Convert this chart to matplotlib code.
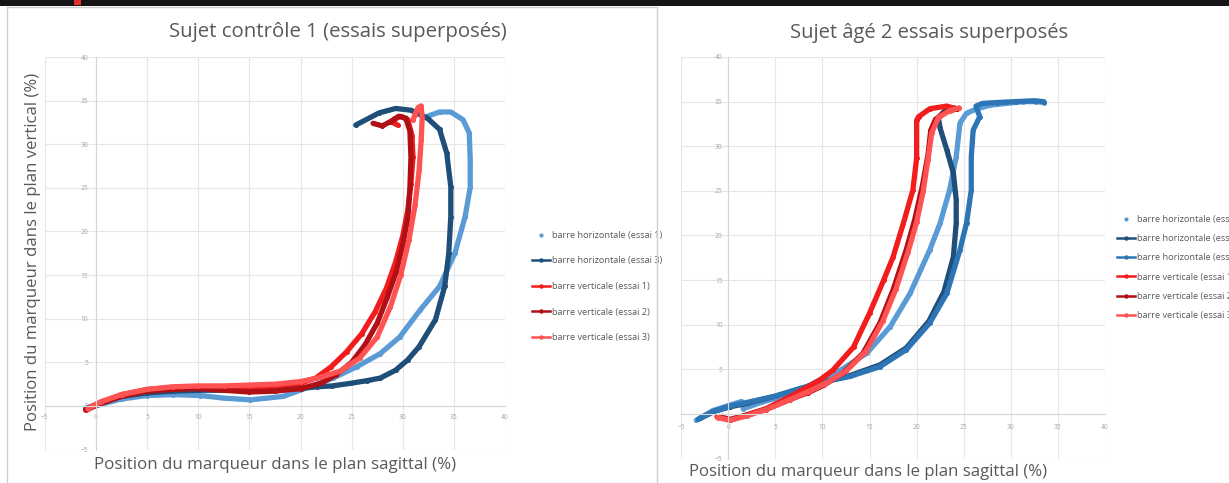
import matplotlib
matplotlib.use('Agg')
import matplotlib.pyplot as plt
from matplotlib.lines import Line2D
from matplotlib.patches import Rectangle

W, H = 1229, 483
plt.rcParams['font.family'] = ['Open Sans', 'DejaVu Sans']

# ---------------- data : left chart (Sujet contrôle 1) ----------------
title_left = "Sujet contrôle 1 (essais superposés)"
title_right = "Sujet âgé 2 essais superposés"
xlabel = "Position du marqueur dans le plan sagittal (%)"
ylabel = "Position du marqueur dans le plan vertical (%)"
ticks = [-5, 0, 5, 10, 15, 20, 25, 30, 35, 40]

left_labels = ["barre horizontale (essai 1)", "barre horizontale (essai 3)",
               "barre verticale (essai 1)", "barre verticale (essai 2)",
               "barre verticale (essai 3)"]
right_labels = ["barre horizontale (essai 1)", "barre horizontale (essai 2)",
                "barre horizontale (essai 3)", "barre verticale (essai 1)",
                "barre verticale (essai 2)", "barre verticale (essai 3)"]

L_h1_x = [-0.8, 0.5, 2.5, 5, 7.5, 10.2, 12.5, 15.1, 18.3, 20.9, 23.2, 25.5, 27.8, 29.7, 31.7,
          33.6, 35.1, 36.1, 36.6, 36.6, 36.5, 35.9, 34.7, 33.6, 32.4]
L_h1_y = [-0.3, 0.2, 0.8, 1.2, 1.3, 1.2, 0.9, 0.7, 1.1, 2.2, 3.2, 4.5, 6.0, 7.9, 11.0,
          13.7, 17.5, 21.7, 25.1, 28.2, 31.3, 32.8, 33.7, 33.7, 33.2]
L_h3_x = [-1.0, 0.5, 2.5, 5, 7.5, 10, 12.5, 15, 17.5, 20, 21.6, 23.1, 24.9, 26.5, 27.8,
          29.3, 30.5, 31.6, 33.2, 34.1, 34.5, 34.7, 34.7, 34.3, 33.6, 32.4, 30.8, 29.3, 27.7, 25.4]
L_h3_y = [-0.3, 0.4, 1.1, 1.5, 1.7, 1.8, 1.8, 1.8, 1.9, 2.0, 2.2, 2.3, 2.6, 2.9, 3.2,
          4.1, 5.3, 6.8, 9.9, 13.7, 17.5, 21.7, 25.1, 29.0, 31.7, 33.0, 33.9, 34.1, 33.6, 32.2]
L_v1_x = [-1.0, 0.5, 2.5, 5, 7.5, 10, 12.5, 15, 17.5, 20, 21.5, 23.0, 24.5, 26.0, 27.3,
          28.4, 29.3, 30.0, 30.5, 30.8, 31.0, 30.9, 30.5, 29.8, 29.2, 29.0, 29.5]
L_v1_y = [-0.5, 0.4, 1.3, 1.9, 2.1, 2.2, 2.2, 2.2, 2.3, 2.6, 3.2, 4.5, 6.2, 8.3, 10.8,
          13.5, 16.5, 19.5, 22.5, 25.5, 28.5, 31.0, 32.8, 33.2, 32.9, 32.5, 32.2]
L_v2_x = [-1.0, 0.5, 2.5, 5, 7.5, 10, 12.5, 15, 17.5, 20, 22.0, 23.5, 25.0, 26.3, 27.5,
          28.5, 29.4, 30.0, 30.5, 30.7, 30.8, 30.7, 30.3, 29.6, 28.8, 28.0, 27.1]
L_v2_y = [-0.4, 0.3, 1.1, 1.7, 1.9, 2.0, 1.8, 1.6, 1.7, 2.0, 2.6, 3.6, 5.0, 7.0, 9.5,
          12.5, 15.5, 18.5, 21.5, 25.0, 28.5, 31.5, 33.0, 33.2, 32.6, 32.1, 32.4]
L_v3_x = [-0.8, 0.5, 2.5, 5, 7.5, 10, 12.5, 15, 17.5, 20, 22.0, 23.9, 25.8, 27.5, 28.8,
          29.8, 30.6, 31.2, 31.6, 31.8, 31.9, 31.8, 31.5, 31.2, 31.0]
L_v3_y = [-0.3, 0.5, 1.3, 1.9, 2.2, 2.3, 2.3, 2.4, 2.5, 2.8, 3.3, 4.0, 5.5, 7.9, 11.4,
          15.0, 19.0, 23.0, 27.0, 30.5, 33.0, 34.4, 34.2, 33.4, 32.8]

# ---------------- data : right chart (Sujet âgé 2) ----------------
R_h1_x = [-3.4, -1.6, 0.2, 1.4, 1.6, 3.5, 5.5, 7.5, 9.7, 11.9, 14.7, 17.2, 19.3, 21.4, 22.5,
          23.5, 24.2, 24.6, 25.3, 26.4, 27.8, 29.5, 31.3, 32.7, 33.5]
R_h1_y = [-0.7, 0.4, 1.0, 1.4, 0.6, 1.3, 1.9, 2.6, 3.8, 4.9, 6.8, 9.8, 13.5, 18.4, 21.4,
          25.1, 28.8, 32.6, 33.7, 34.2, 34.6, 34.8, 35.0, 35.0, 34.9]
R_h2_x = [-3.0, -1.5, 0.2, 2.0, 5.0, 7.5, 10.1, 12.9, 16.1, 18.9, 21.3, 22.9, 23.9, 24.2, 24.2,
          23.9, 23.2, 22.5, 22.3, 23.0, 24.0]
R_h2_y = [-0.5, 0.3, 0.8, 1.2, 2.0, 2.8, 3.6, 4.3, 5.5, 7.4, 10.4, 13.7, 17.6, 21.4, 24.0,
          27.0, 29.6, 32.0, 33.2, 34.0, 34.3]
R_h3_x = [-3.2, -1.5, 0.2, 2.0, 5.0, 7.5, 10.1, 12.9, 16.1, 18.9, 21.4, 23.2, 24.6, 25.3, 25.8,
          25.8, 26.0, 26.7, 26.3, 27.0, 28.5, 30.5, 32.5, 33.5]
R_h3_y = [-0.6, 0.3, 0.9, 1.3, 2.0, 2.8, 3.6, 4.2, 5.3, 7.2, 10.2, 13.5, 18.4, 21.4, 25.1,
          28.8, 31.8, 33.3, 34.5, 34.8, 34.9, 35.0, 35.1, 35.0]
R_v1_x = [-1.2, 0.2, 2.0, 4.0, 6.5, 8.2, 9.7, 11.1, 13.3, 15.0, 16.5, 17.5, 18.6, 19.6, 20.0,
          20.0, 20.2, 21.4, 23.2, 24.2]
R_v1_y = [-0.3, -0.7, -0.1, 0.6, 1.9, 2.9, 3.8, 4.9, 7.5, 11.3, 15.0, 17.6, 21.4, 25.1, 28.7,
          32.9, 33.3, 34.2, 34.5, 34.2]
R_v2_x = [-1.0, 0.2, 2.0, 4.0, 6.5, 8.5, 10.1, 12.2, 14.3, 16.1, 17.5, 18.9, 19.8, 20.6, 21.2,
          21.5, 22.0, 23.0, 24.3]
R_v2_y = [-0.3, -0.6, -0.1, 0.5, 1.6, 2.4, 3.2, 4.6, 6.8, 10.2, 13.9, 18.4, 21.8, 25.5, 29.0,
          31.8, 33.0, 33.8, 34.2]
R_v3_x = [-1.1, 0.2, 2.0, 4.0, 6.5, 8.5, 10.3, 12.5, 14.6, 16.4, 17.8, 19.1, 20.0, 20.7, 21.2,
          21.6, 22.3, 23.5, 24.5]
R_v3_y = [-0.4, -0.7, -0.2, 0.5, 1.6, 2.5, 3.4, 4.8, 7.0, 10.4, 14.0, 18.2, 21.5, 25.0, 28.5,
          31.5, 33.2, 34.0, 34.3]

C_LBLUE = '#5B9BD5'
C_DBLUE = '#1F4E79'
C_MBLUE = '#2E75B6'
C_RED = '#F21C1C'
C_DRED = '#B00F14'
C_LRED = '#FF5252'
TXT = '#595959'

fig = plt.figure(figsize=(W / 100, H / 100), dpi=100)
fig.patch.set_facecolor('white')


def rect(x0, x1, ytop, ybot):
    return [x0 / W, 1 - ybot / H, (x1 - x0) / W, (ybot - ytop) / H]


def fx(px):
    return px / W


def fy(py):
    return 1 - py / H


# screenshot decorations: top dark bar and chart borders
fig.add_artist(Rectangle((0, fy(6)), 1, 6 / H, transform=fig.transFigure,
                         color='#151515', lw=0))
fig.add_artist(Rectangle((fx(74), fy(5)), 7 / W, 5 / H, transform=fig.transFigure,
                         color='#E03030', lw=0))
fig.add_artist(Line2D([fx(7), fx(7)], [fy(7), 0], transform=fig.transFigure,
                      color='#CFCFCF', lw=1))
fig.add_artist(Line2D([fx(7), fx(657)], [fy(7), fy(7)], transform=fig.transFigure,
                      color='#CFCFCF', lw=1))
fig.add_artist(Line2D([fx(657), fx(657)], [fy(7), 0], transform=fig.transFigure,
                      color='#CFCFCF', lw=1))


def setup(ax, ypad, xpad):
    ax.set_xlim(-5, 40)
    ax.set_ylim(-5, 40)
    ax.set_xticks(ticks)
    ax.set_yticks(ticks)
    ax.grid(True, color='#E6E6E6', lw=0.8)
    ax.set_axisbelow(True)
    ax.set_facecolor('none')
    for s in ['top', 'right']:
        ax.spines[s].set_visible(False)
    ax.spines['left'].set_position(('data', 0))
    ax.spines['bottom'].set_position(('data', 0))
    for s in ['left', 'bottom']:
        ax.spines[s].set_color('#D6D6D6')
        ax.spines[s].set_linewidth(0.8)
    ax.tick_params(axis='y', length=0, labelsize=4.8, labelcolor='#A6A6A6', pad=ypad)
    ax.tick_params(axis='x', length=0, labelsize=4.8, labelcolor='#A6A6A6', pad=xpad)


LW = 3.8
MS = 3.6

# ---------------- left chart ----------------
ax1 = fig.add_axes(rect(44.9, 505, 57, 449.6))
setup(ax1, 5.5, 6)
for xs, ys, c in [(L_h1_x, L_h1_y, C_LBLUE), (L_h3_x, L_h3_y, C_DBLUE),
                  (L_v1_x, L_v1_y, C_RED), (L_v2_x, L_v2_y, C_DRED),
                  (L_v3_x, L_v3_y, C_LRED)]:
    ax1.plot(xs, ys, color=c, lw=LW, marker='o', ms=MS, mew=0,
             solid_capstyle='round', solid_joinstyle='round')

# ---------------- right chart ----------------
ax2 = fig.add_axes(rect(681.2, 1105, 57, 458.6))
setup(ax2, 4, 7)
for xs, ys, c in [(R_h1_x, R_h1_y, C_LBLUE), (R_h2_x, R_h2_y, C_DBLUE),
                  (R_h3_x, R_h3_y, C_MBLUE), (R_v1_x, R_v1_y, C_RED),
                  (R_v2_x, R_v2_y, C_DRED), (R_v3_x, R_v3_y, C_LRED)]:
    ax2.plot(xs, ys, color=c, lw=LW, marker='o', ms=MS, mew=0,
             solid_capstyle='round', solid_joinstyle='round')

# ---------------- texts ----------------
renderer = fig.canvas.get_renderer()


def fit(t, target, vertical=False):
    bb = t.get_window_extent(renderer=renderer)
    size = bb.height if vertical else bb.width
    t.set_fontsize(t.get_fontsize() * target / size)
    return t


fit(fig.text(fx(337.5), fy(32), title_left, ha='center', va='center', color=TXT, fontsize=12), 335)
fit(fig.text(fx(929), fy(33), title_right, ha='center', va='center', color=TXT, fontsize=12), 276)
fit(fig.text(fx(275), fy(465), xlabel, ha='center', va='center', color=TXT, fontsize=12), 360)
fit(fig.text(fx(868.5), fy(472), xlabel, ha='center', va='center', color=TXT, fontsize=12), 357)
fit(fig.text(fx(33), fy(252), ylabel, ha='center', va='center', rotation=90, color=TXT,
             fontsize=12), 356, vertical=True)

# legend font size fitted to the reference label width
probe = fig.text(0, 0, left_labels[0], fontsize=10)
bb = probe.get_window_extent(renderer=renderer)
leg_fs = 10 * 111 / bb.width
probe.set_fontsize(leg_fs)
bb = probe.get_window_extent(renderer=renderer)
text_h = bb.height
probe.remove()
fs_px = leg_fs * 100 / 72


def make_legend(ax, handles, labels, x_left, y_first, pitch):
    top = y_first - text_h / 2
    return ax.legend(handles, labels, loc='upper left',
                     bbox_to_anchor=(fx(x_left), fy(top)), bbox_transform=fig.transFigure,
                     frameon=False, fontsize=leg_fs, labelcolor=TXT,
                     borderpad=0, borderaxespad=0, handlelength=18 / fs_px,
                     handletextpad=2.5 / fs_px, labelspacing=(pitch - text_h) / fs_px,
                     numpoints=1)


p_l = Line2D([], [], ls='none', marker='o', ms=3, mew=0, color=C_LBLUE)


def proxy(c):
    return Line2D([], [], color=c, lw=1.8, marker='o', ms=3.2, mew=0)


make_legend(ax1, [p_l, proxy(C_DBLUE), proxy(C_RED), proxy(C_DRED), proxy(C_LRED)],
            left_labels, 531.7, 235.5, 25.5)
make_legend(ax2, [p_l, proxy(C_DBLUE), proxy(C_MBLUE), proxy(C_RED), proxy(C_DRED), proxy(C_LRED)],
            right_labels, 1116.7, 219.5, 19.2)

fig.savefig('out.png', dpi=100)
